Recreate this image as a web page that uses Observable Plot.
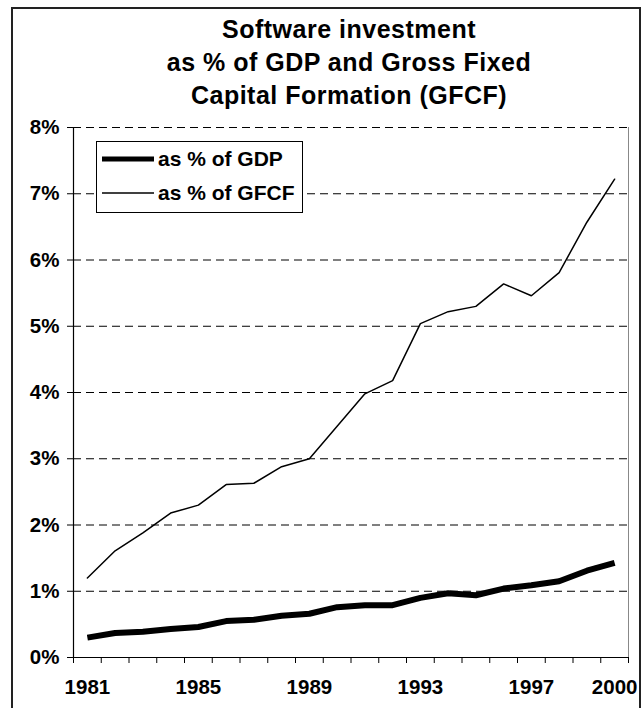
<!DOCTYPE html>
<html>
<head>
<meta charset="utf-8">
<script src="https://cdn.jsdelivr.net/npm/d3@7"></script>
<script src="https://cdn.jsdelivr.net/npm/@observablehq/plot@0.6"></script>
<style>
  html, body { margin: 0; padding: 0; background: #fff; }
  #wrap { position: relative; width: 643px; height: 708px; overflow: hidden; font-family: "Liberation Sans", Arial, sans-serif; font-weight: bold; color: #000; }
  #chart { position: absolute; left: 0; top: 0; }
  #chart svg text { font-size: 20.5px; font-weight: bold; fill: #000; }
  #frame { position: absolute; left: 11px; top: 7px; width: 626px; height: 760px; border: 2px solid #222; pointer-events: none; }
  #title { position: absolute; left: 149px; width: 400px; top: 13px; text-align: center; font-size: 25px; line-height: 33px; letter-spacing: 0.5px; }
  #legend { position: absolute; left: 96px; top: 141px; width: 205px; height: 70px; border: 1px solid #000; background: #fff; font-size: 21px; }
  .item { position: absolute; left: 0; height: 34px; display: flex; align-items: center; white-space: nowrap; }
  .item svg { margin-left: 5px; margin-right: 4px; }
</style>
</head>
<body>
<div id="wrap">
  <div id="chart"></div>
  <div id="title">Software investment<br>as % of GDP and Gross Fixed<br>Capital Formation (GFCF)</div>
  <div id="legend"></div>
  <div id="frame"></div>
</div>
<script>
const years = [1981, 1982, 1983, 1984, 1985, 1986, 1987, 1988, 1989, 1990,
               1991, 1992, 1993, 1994, 1995, 1996, 1997, 1998, 1999, 2000];
const gdpShare = [0.30, 0.37, 0.39, 0.43, 0.46, 0.55, 0.57, 0.63, 0.66, 0.76,
                  0.79, 0.79, 0.90, 0.97, 0.94, 1.04, 1.09, 1.15, 1.31, 1.43];
const gfcfShare = [1.20, 1.61, 1.88, 2.18, 2.30, 2.61, 2.63, 2.88, 3.00, 3.49,
                   3.98, 4.18, 5.04, 5.22, 5.30, 5.64, 5.46, 5.81, 6.57, 7.22];
const yTicks = [0, 1, 2, 3, 4, 5, 6, 7, 8];
const gridTicks = [1, 2, 3, 4, 5, 6, 7, 8];
const xLabelYears = [1981, 1985, 1989, 1993, 1997, 2000];
const seriesNames = ["as % of GDP", "as % of GFCF"];
const seriesWidths = [6, 1.5];

const xBoundaries = d3.range(years.length + 1).map(i => years[0] - 0.5 + i);
const rows = (vals, name) => years.map((yr, i) => ({year: yr, value: vals[i], series: name}));
const gdpRows = rows(gdpShare, seriesNames[0]);
const gfcfRows = rows(gfcfShare, seriesNames[1]);

const plot = Plot.plot({
  width: 643,
  height: 708,
  marginTop: 127,
  marginBottom: 51,
  marginLeft: 73,
  marginRight: 15,
  style: {background: "transparent", overflow: "visible", fontFamily: "'Liberation Sans', Arial, sans-serif"},
  x: {type: "linear", domain: [xBoundaries[0], xBoundaries[xBoundaries.length - 1]]},
  y: {domain: [0, 8]},
  marks: [
    Plot.gridY(gridTicks, {stroke: "#000", strokeOpacity: 1, strokeWidth: 1, strokeDasharray: "8,5"}),
    Plot.ruleX([xBoundaries[xBoundaries.length - 1]], {stroke: "#888", strokeWidth: 1}),
    Plot.ruleX([xBoundaries[0]], {stroke: "#000", strokeWidth: 1.2}),
    Plot.ruleY([0], {stroke: "#000", strokeWidth: 1.2}),
    Plot.axisY(yTicks, {tickSize: 6, tickPadding: 8, tickFormat: d => d + "%", label: null, stroke: "#000"}),
    Plot.axisX(xBoundaries, {tickSize: 6, tickFormat: () => "", label: null, stroke: "#000"}),
    Plot.axisX(xLabelYears, {tickSize: 0, tickPadding: 22, tickFormat: d => String(d), label: null}),
    Plot.line(gfcfRows, {x: "year", y: "value", stroke: "#000", strokeWidth: seriesWidths[1], strokeLinejoin: "miter"}),
    Plot.line(gdpRows, {x: "year", y: "value", stroke: "#000", strokeWidth: seriesWidths[0], strokeLinejoin: "round", strokeLinecap: "butt"})
  ]
});
document.getElementById("chart").appendChild(plot);

const legend = document.getElementById("legend");
seriesNames.forEach((name, i) => {
  const item = document.createElement("div");
  item.className = "item";
  item.style.top = (i * 34) + "px";
  item.innerHTML = `<svg width="52" height="10"><line x1="0" x2="52" y1="5" y2="5" stroke="#000" stroke-width="${i === 0 ? 5 : 1.5}"/></svg><span>${name}</span>`;
  legend.appendChild(item);
});
</script>
</body>
</html>
